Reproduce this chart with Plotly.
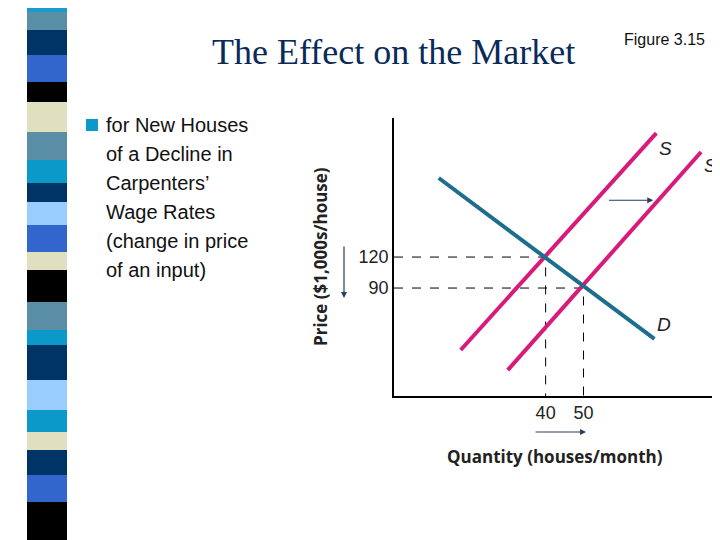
import plotly.graph_objects as go

# data
demand_x = [11.8, 68.7]; demand_y = [196.5, 40.7]
supply_x = [17.6, 69.2]; supply_y = [30, 240]
supply2_x = [30, 81]; supply2_y = [10.6, 221.7]
eq_q = [40, 50]; eq_p = [120, 90]
bullet_lines = ["for New Houses", "of a Decline in", "Carpenters’", "Wage Rates", "(change in price", "of an input)"]
stripe_bounds = [0,12,30,55,82,102,132,160,183,202,225,252,270,302,330,345,380,410,432,450,475,502,540]
stripe_colors = ["#1a9bd0","#5b8fa8","#003366","#3366cc","#000000","#e0e0c0","#5b8fa8","#0a99c8","#003366",
                 "#99ccff","#3366cc","#e0e0c0","#000000","#5b8fa8","#0a99c8","#003366","#99ccff","#0a99c8",
                 "#e0e0c0","#003366","#3366cc","#000000"]

O = 8  # page offset of the figure in the browser
FW, FH = 720 - O, 540 - O
L, R, T, B = 394 - O, 720 - O, 118 - O, 396 - O
W, H = R - L, B - T
def px(x): return (x - O - L) / W
def py(y): return (B - (y - O)) / H

fig = go.Figure()
pink = "#d81b7a"; teal = "#1c6e8c"
for (q, p) in zip(eq_q, eq_p):
    fig.add_trace(go.Scatter(x=[0, q, q], y=[p, p, -15], mode="lines",
                             line=dict(color="black", width=1, dash="dash"), hoverinfo="skip"))
fig.add_trace(go.Scatter(x=supply_x, y=supply_y, mode="lines", line=dict(color=pink, width=4)))
fig.add_trace(go.Scatter(x=supply2_x, y=supply2_y, mode="lines", line=dict(color=pink, width=4)))
fig.add_trace(go.Scatter(x=demand_x, y=demand_y, mode="lines", line=dict(color=teal, width=4)))

ann = []
for t, x, y in [("S", 69.5, 225), ("S'", 81.3, 209), ("D", 68.8, 55)]:
    ann.append(dict(x=x, y=y, xref="x", yref="y", text="<i>"+t+"</i>", showarrow=False,
                    font=dict(family="Liberation Sans", size=19, color="#222"),
                    xanchor="left", yanchor="middle"))
ann.append(dict(x=68.4, y=175, ax=56.3, ay=175, xref="x", yref="y", axref="x", ayref="y",
                text="", showarrow=True, arrowhead=2, arrowsize=1, arrowwidth=1.2))
ann.append(dict(x=px(344), y=py(298), ax=0, ay=-53, xref="paper", yref="paper",
                axref="pixel", ayref="pixel", text="", showarrow=True, arrowhead=2, arrowwidth=1.2))
ann.append(dict(x=px(586), y=py(432), ax=-52, ay=0, xref="paper", yref="paper",
                axref="pixel", ayref="pixel", text="", showarrow=True, arrowhead=2, arrowwidth=1.2))
def txt(x, y, t, size, family, color="#111", xa="center", angle=0):
    ann.append(dict(x=px(x), y=py(y), xref="paper", yref="paper", text=t, textangle=angle,
                    xanchor=xa, yanchor="middle", showarrow=False,
                    font=dict(family=family, size=size, color=color)))
txt(320, 257, "<b>Price ($1,000s/house)</b>", 17, "Open Sans", "#222", angle=-90)
txt(555, 456, "<b>Quantity (houses/month)</b>", 17, "Open Sans", "#222")
txt(393, 52, "The Effect on the Market", 36, "Liberation Serif", "#0a2a5a")
txt(622, 40, "Figure 3.15", 16, "Liberation Sans", xa="left")
for i, t in enumerate(bullet_lines):
    txt(104, 125 + 29 * i, t, 20, "Liberation Sans", xa="left")

shapes = [dict(type="rect", xref="paper", yref="paper", x0=px(86), x1=px(98), y0=py(119), y1=py(131),
               fillcolor="#0a99c8", line=dict(width=0))]
for i, c in enumerate(stripe_colors):
    shapes.append(dict(type="rect", xref="paper", yref="paper", x0=px(27), x1=px(67),
                       y0=py(stripe_bounds[i]), y1=py(stripe_bounds[i + 1]),
                       fillcolor=c, line=dict(width=0), layer="below"))

fig.update_layout(width=FW, height=FH, margin=dict(l=L, r=FW - R, t=T, b=FH - B),
                  paper_bgcolor="white", plot_bgcolor="white", showlegend=False,
                  annotations=ann, shapes=shapes,
                  xaxis=dict(range=[0, 86], tickvals=eq_q, showgrid=False, zeroline=False,
                             showline=True, linecolor="black", linewidth=1.5, ticks="",
                             tickfont=dict(family="Liberation Sans", size=18, color="#222")),
                  yaxis=dict(range=[-14.5, 254.6], tickvals=eq_p, showgrid=False, zeroline=False,
                             showline=True, linecolor="black", linewidth=1.5, ticks="",
                             tickfont=dict(family="Liberation Sans", size=18, color="#222")))
fig.write_html("out.html")
